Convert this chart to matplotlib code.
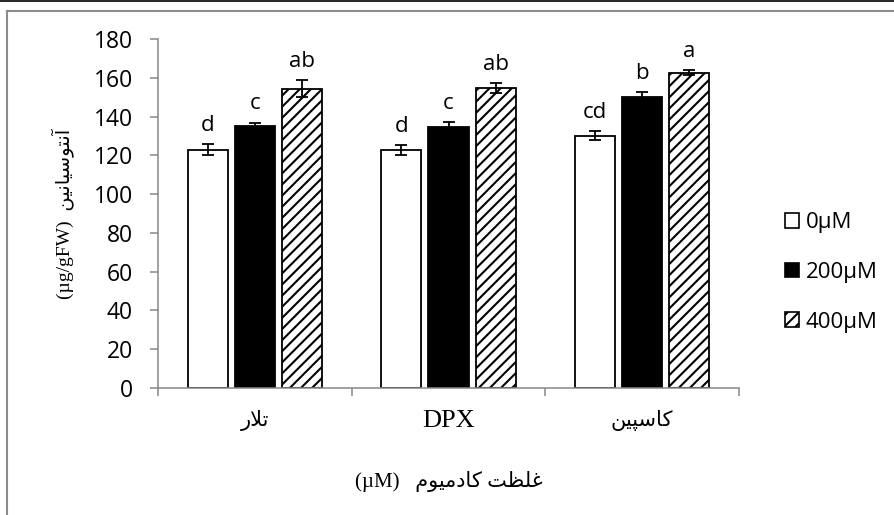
import numpy as np
import matplotlib
matplotlib.use("Agg")
import matplotlib.pyplot as plt
from matplotlib.patches import Patch
from matplotlib.lines import Line2D

# anthocyanin content per cultivar and cadmium level
cultivars = ["تلار", "DPX", "کاسپین"]
levels = ["0µM", "200µM", "400µM"]
means = [
    [122.9, 122.9, 130.2],   # 0 µM
    [134.9, 134.6, 150.0],   # 200 µM
    [154.3, 154.7, 162.5],   # 400 µM
]
errors = [
    [2.9, 2.5, 2.4],
    [2.0, 2.7, 2.7],
    [4.3, 2.6, 1.3],
]
letters = [
    ["d", "d", "cd"],
    ["c", "c", "b"],
    ["ab", "ab", "a"],
]
yticks = [0, 20, 40, 60, 80, 100, 120, 140, 160, 180]

# Arabic letter forms: isolated, final, initial, medial
FORMS = {
    'آ': ('\uFE81', '\uFE82', None, None),
    'ا': ('\uFE8D', '\uFE8E', None, None),
    'ت': ('\uFE95', '\uFE96', '\uFE97', '\uFE98'),
    'د': ('\uFEA9', '\uFEAA', None, None),
    'ر': ('\uFEAD', '\uFEAE', None, None),
    'س': ('\uFEB1', '\uFEB2', '\uFEB3', '\uFEB4'),
    'ظ': ('\uFEC5', '\uFEC6', '\uFEC7', '\uFEC8'),
    'غ': ('\uFECD', '\uFECE', '\uFECF', '\uFED0'),
    'ل': ('\uFEDD', '\uFEDE', '\uFEDF', '\uFEE0'),
    'م': ('\uFEE1', '\uFEE2', '\uFEE3', '\uFEE4'),
    'ن': ('\uFEE5', '\uFEE6', '\uFEE7', '\uFEE8'),
    'و': ('\uFEED', '\uFEEE', None, None),
    'پ': ('\uFB56', '\uFB57', '\uFB58', '\uFB59'),
    'ک': ('\uFB8E', '\uFB8F', '\uFB90', '\uFB91'),
    'ی': ('\uFBFC', '\uFBFD', '\uFBFE', '\uFBFF'),
}
LAM_ALEF = {'ا': ('\uFEFB', '\uFEFC'), 'آ': ('\uFEF5', '\uFEF6')}


def shape_word(word):
    if word[0] not in FORMS:
        return word
    out = []
    prev_joins = False
    i = 0
    while i < len(word):
        ch = word[i]
        if ch == 'ل' and i + 1 < len(word) and word[i + 1] in LAM_ALEF:
            lig = LAM_ALEF[word[i + 1]]
            out.append(lig[1] if prev_joins else lig[0])
            prev_joins = False
            i += 2
            continue
        f = FORMS[ch]
        nxt = word[i + 1] if i + 1 < len(word) else None
        next_joins = f[2] is not None and nxt in FORMS
        if prev_joins and next_joins:
            g = f[3]
        elif prev_joins:
            g = f[1]
        elif next_joins:
            g = f[2]
        else:
            g = f[0]
        out.append(g)
        prev_joins = next_joins
        i += 1
    return ''.join(reversed(out))


def rtl(text):
    return ' '.join(shape_word(w) for w in reversed(text.split()))


plt.rcParams['font.family'] = ['Open Sans', 'DejaVu Sans']
plt.rcParams['hatch.linewidth'] = 1.5
serif = ['Liberation Serif', 'DejaVu Sans']

fig = plt.figure(figsize=(8.94, 5.15), dpi=100)
ax = fig.add_axes([158 / 894, 1 - 388 / 515, 581 / 894, 349 / 515])

x = np.arange(len(cultivars))
offsets = [-0.243, 0.0, 0.243]
width = 0.207
styles = [
    dict(facecolor='white', edgecolor='black'),
    dict(facecolor='black', edgecolor='black'),
    dict(facecolor='white', edgecolor='black', hatch='///'),
]

for k in range(len(levels)):
    xs = x + offsets[k]
    ax.bar(xs, means[k], width, linewidth=1.3, **styles[k])
    ax.errorbar(xs, means[k], yerr=errors[k], fmt='none', ecolor='black',
                elinewidth=1.3, capsize=4, capthick=1.3)
    for xi, m, e, lab in zip(xs, means[k], errors[k], letters[k]):
        ax.annotate(lab, (xi, m + e), xytext=(0, 9.5), textcoords='offset points',
                    ha='center', va='baseline', fontsize=16)

ax.set_xlim(-0.5, 2.5)
ax.set_ylim(0, 180)
ax.set_yticks(yticks)
ax.tick_params(axis='y', direction='out', length=6, width=1.1, color='#878787',
               labelsize=16.5, pad=12)

ax.set_xticks(x)
ax.set_xticklabels([rtl(c) for c in cultivars], family=serif, fontsize=19)
for lab in ax.get_xticklabels():
    if lab.get_text() != "DPX":
        lab.set_fontsize(15)
ax.set_xticks([-0.5, 0.5, 1.5, 2.5], minor=True)
ax.tick_params(axis='x', which='major', length=0, pad=16)
ax.tick_params(axis='x', which='minor', direction='out', length=6, width=1.1,
               color='#878787')

for side in ['top', 'right']:
    ax.spines[side].set_visible(False)
for side in ['left', 'bottom']:
    ax.spines[side].set_color('#878787')
    ax.spines[side].set_linewidth(1.1)

ax.set_ylabel("(µg/gFW)  " + rtl("آنتوسیانین"), family=serif, fontsize=14, labelpad=14)
ax.set_xlabel("(µM)   " + rtl("غلظت کادمیوم"), family=serif, fontsize=15, labelpad=28)

handles = [Patch(linewidth=1.2, **s) for s in styles]
fig.legend(handles, levels, loc='upper left', bbox_to_anchor=(776 / 894, 1 - 203 / 515),
           frameon=False, fontsize=16, handlelength=0.65, handleheight=0.65,
           handletextpad=0.3, labelspacing=1.3, borderaxespad=0)

# page frame
fig.add_artist(Line2D([0, 1], [1 - 1 / 515, 1 - 1 / 515], color='black', lw=1.2))
fig.add_artist(Line2D([7 / 894, 7 / 894], [0, 1 - 11 / 515], color='#8c8c8c', lw=1.5))
fig.add_artist(Line2D([7 / 894, 1], [1 - 11 / 515, 1 - 11 / 515], color='#8c8c8c', lw=1.5))

fig.savefig("out.png", dpi=100)
